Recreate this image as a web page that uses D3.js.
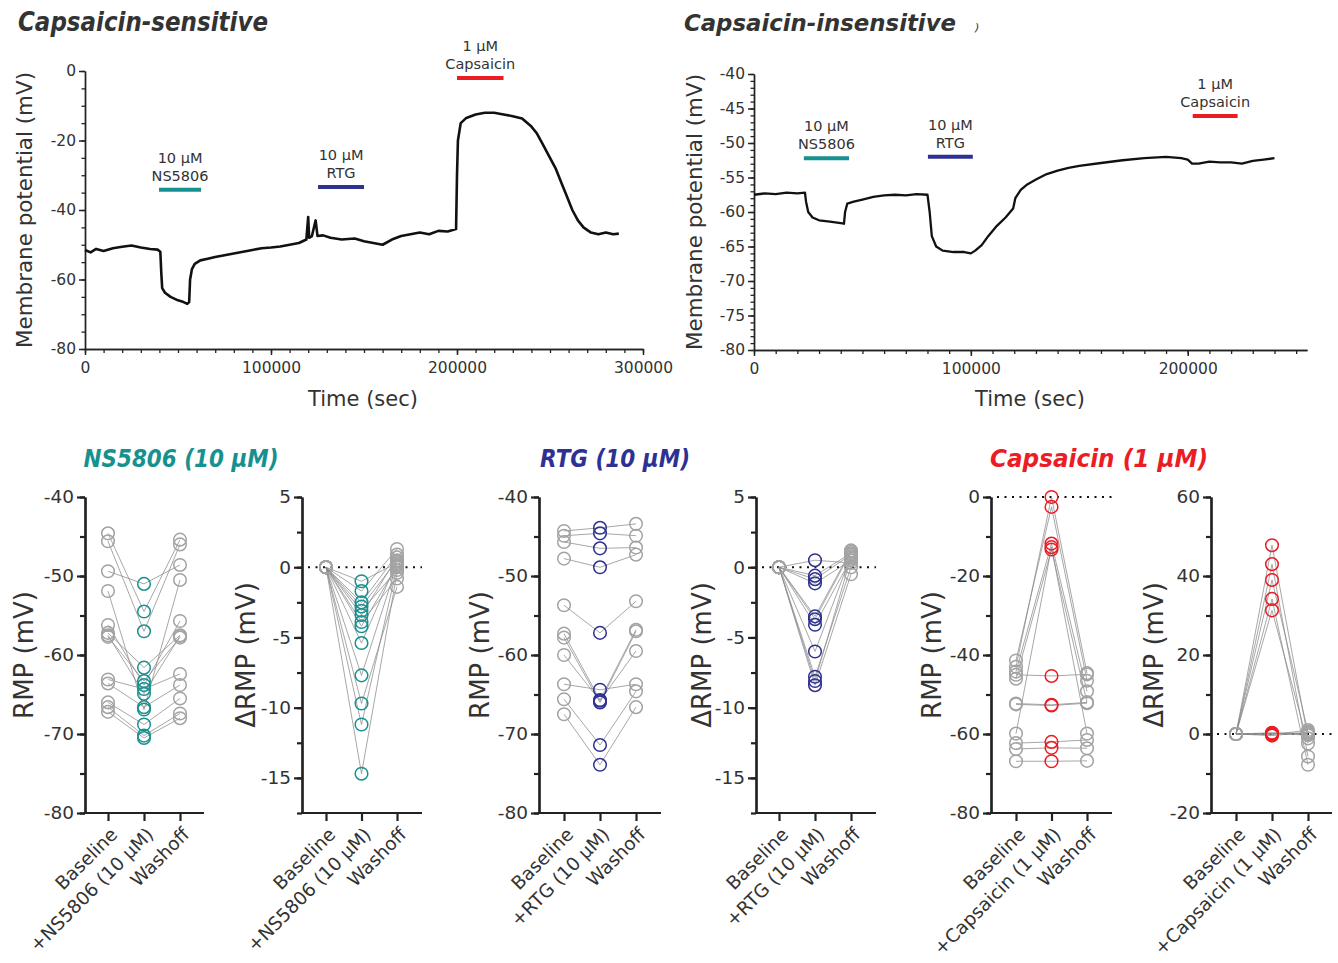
<!DOCTYPE html>
<html><head><meta charset="utf-8">
<script src="https://cdn.jsdelivr.net/npm/d3@7"></script>
<style>
body{margin:0;background:#fff}
text{font-family:"DejaVu Sans",sans-serif;fill:#333}
</style></head>
<body><svg id="c" width="1338" height="963"></svg>
<script>
// ---------------- DATA ----------------
// Capsaicin-sensitive trace (time s, mV)
const sensTime = [0,3000,6000,10000,15000,20000,25000,30000,35000,39000,40500,41000,41500,43000,46000,50000,53000,55000,56000,56500,57500,59000,62000,66000,70000,75000,80000,85000,90000,95000,100000,105000,110000,115000,119000,120000,120500,122000,124000,125000,128000,132000,138000,145000,150000,155000,160000,165000,170000,175000,180000,185000,190000,195000,199500,200000,200500,202000,205000,210000,215000,220000,225000,230000,235000,240000,243000,246000,250000,253000,256000,259000,262000,265000,268000,272000,276000,280000,284000,287000];
const sensMv   = [-51.5,-52.2,-51.2,-51.8,-51.0,-50.6,-50.2,-50.8,-51.2,-51.4,-52.0,-58,-62.5,-63.8,-65,-66,-66.5,-67.0,-66.5,-60,-57,-55.5,-54.5,-54,-53.5,-53,-52.5,-52,-51.5,-51,-50.8,-50.5,-50,-49.5,-48.5,-42,-48,-47.5,-43,-47.5,-47.3,-48,-48.5,-48.2,-49,-49.5,-50,-48.5,-47.5,-47,-46.5,-47,-46,-46.2,-45.5,-30,-20,-15,-13.5,-12.5,-12,-12,-12.5,-13,-13.7,-16,-18,-21,-25,-28,-32,-36,-40,-43,-45,-46.5,-47,-46.5,-47,-46.8];
// Capsaicin-insensitive trace
const insTime = [0,5000,10000,15000,20000,23500,24000,25000,27000,30000,35000,40000,41500,42000,43000,46000,50000,55000,60000,65000,70000,75000,80000,81000,82000,84000,87000,92000,97000,100000,102000,105000,108000,112000,116000,119500,120500,123000,126000,130000,135000,140000,145000,150000,160000,170000,180000,190000,197000,200000,202000,205000,210000,215000,220000,225000,230000,235000,240000];
const insMv   = [-57.5,-57.3,-57.4,-57.2,-57.3,-57.2,-58.5,-60,-60.8,-61.2,-61.4,-61.6,-61.7,-60,-58.8,-58.5,-58.2,-57.8,-57.6,-57.5,-57.6,-57.4,-57.5,-60,-63.5,-65,-65.6,-65.8,-65.8,-66,-65.6,-64.8,-63.5,-62,-60.8,-59.5,-58,-56.8,-56,-55.3,-54.5,-54,-53.6,-53.3,-52.9,-52.5,-52.2,-52,-52.2,-52.4,-53,-53,-52.7,-52.8,-52.8,-53,-52.6,-52.4,-52.2];
// drug application bars
const drugNames = ["NS5806","RTG","Capsaicin"];
const drugConc  = ["10 µM","10 µM","1 µM"];
const sensStart = [39800,125300,200000], sensEnd = [62400,150000,225000], sensLevel = [-34.2,-33.4,-2];
const insStart  = [23000,80200,202300],  insEnd  = [43800,100900,223000], insLevel  = [-52.2,-52.0,-46.1];

// Summary panels
const nsCats  = ["Baseline","+NS5806 (10 µM)","Washoff"];
const rtgCats = ["Baseline","+RTG (10 µM)","Washoff"];
const capCats = ["Baseline","+Capsaicin (1 µM)","Washoff"];

const nsBaseline  = [-44.6,-45.6,-49.4,-51.9,-56.2,-57.2,-57.7,-63.1,-63.6,-66.0,-66.6,-67.2,-57.5];
const nsTreatment = [-54.5,-57.0,-51.0,-66.9,-63.8,-61.6,-63.3,-64.3,-66.6,-68.8,-70.2,-70.5,-64.9];
const nsWashoff   = [-45.4,-46.0,-48.6,-50.5,-55.7,-57.5,-57.8,-62.4,-63.8,-65.5,-67.4,-68.0,-57.6];
const nsDeltaTreatment = [-1.0,-1.7,-2.5,-2.8,-3.1,-3.4,-3.9,-4.2,-5.4,-7.7,-9.7,-11.2,-14.7];
const nsDeltaWashoff   = [0.3,1.3,0.9,0.5,-0.2,0.7,-0.8,0.1,0.4,0.2,-1.4,0,-0.4];

const rtgBaseline  = [-44.3,-44.9,-45.7,-47.8,-53.7,-57.3,-57.8,-60.0,-63.7,-65.6,-67.5];
const rtgTreatment = [-43.9,-44.6,-46.5,-48.9,-57.2,-65.7,-66.0,-65.8,-64.4,-71.4,-73.9];
const rtgWashoff   = [-43.4,-44.9,-46.4,-47.3,-53.2,-56.8,-57.0,-59.5,-63.7,-64.6,-66.6];
const rtgDeltaTreatment = [0.5,-0.6,-0.85,-1.15,-3.5,-3.7,-4.1,-6.0,-7.8,-8.1,-8.4];
const rtgDeltaWashoff   = [0.3,1.0,0.9,0.5,1.2,1.1,0.6,0.8,0,0.7,-0.5];

const capBaseline  = [-41.4,-43.0,-44.2,-46.0,-59.9,-45.0,-52.3,-52.5,-62.3,-63.8,-66.9];
const capTreatment = [-2.5,0,-11.8,-13.3,-12.7,-45.3,-52.6,-52.8,-62.0,-63.5,-66.9];
const capWashoff   = [-46.5,-44.6,-49.2,-52.0,-59.9,-44.9,-52.0,-52.2,-61.5,-63.6,-66.8];
const capDeltaTreatment = [43.0,47.8,34.2,31.3,39.0,0.3,-0.2,-0.4,0.2,0.1,0];
const capDeltaWashoff   = [-5.7,-1.1,-7.8,-2.4,0.6,0.2,1.0,0.4,-0.3,0,0.1];

// ---------------- DRAWING ----------------
const svg = d3.select("#c");
const TEAL = "#17918f", NAVY = "#2e3192", RED = "#ec1c24";
const drugColors = [TEAL, NAVY, RED];
const AX = "#222";
const fmt = d => String(d);   // hyphen-minus like the reference

function styleAxis(g, w) {
  g.selectAll(".domain").attr("stroke", AX).attr("stroke-width", w);
  g.selectAll(".tick line").attr("stroke", AX).attr("stroke-width", w);
}

function tracePanel(o) {
  const x = d3.scaleLinear(o.xDom, o.xRange);
  const y = d3.scaleLinear(o.yDom, o.yRange);
  const g = svg.append("g");
  const ym = g.append("g").attr("transform", `translate(${o.xRange[0]},0)`)
    .call(d3.axisLeft(y).tickValues(o.yMinor).tickSize(3.5).tickSizeOuter(0).tickFormat(""));
  styleAxis(ym, 1.3);
  const yM = g.append("g").attr("transform", `translate(${o.xRange[0]},0)`)
    .call(d3.axisLeft(y).tickValues(o.yMajor).tickSize(6).tickSizeOuter(0).tickPadding(3).tickFormat(fmt));
  styleAxis(yM, 1.5);
  yM.selectAll("text").attr("font-size", 15.5).attr("fill", "#333").attr("font-family", "DejaVu Sans");
  const xm = g.append("g").attr("transform", `translate(0,${o.yRange[0]})`)
    .call(d3.axisBottom(x).tickValues(o.xMinor).tickSize(4).tickSizeOuter(0).tickFormat(""));
  styleAxis(xm, 1.3);
  const xM = g.append("g").attr("transform", `translate(0,${o.yRange[0]})`)
    .call(d3.axisBottom(x).tickValues(o.xMajor).tickSize(6).tickSizeOuter(0).tickPadding(7).tickFormat(fmt));
  styleAxis(xM, 1.5);
  xM.selectAll("text").attr("font-size", 15.5).attr("fill", "#333").attr("font-family", "DejaVu Sans");
  const pts = o.t.map((t, i) => [t, o.v[i]]);
  g.append("path").datum(pts)
    .attr("d", d3.line().x(d => x(d[0])).y(d => y(d[1])))
    .attr("fill", "none").attr("stroke", "#111").attr("stroke-width", o.lw).attr("stroke-linejoin", "round");
  drugNames.forEach((n, i) => {
    const yy = y(o.level[i]);
    g.append("line").attr("x1", x(o.start[i])).attr("x2", x(o.end[i]))
      .attr("y1", yy).attr("y2", yy).attr("stroke", drugColors[i]).attr("stroke-width", 4);
    const cx = (x(o.start[i]) + x(o.end[i])) / 2;
    g.append("text").attr("x", cx).attr("y", yy - 27).attr("text-anchor", "middle")
      .attr("font-size", 14.5).text(drugConc[i]);
    g.append("text").attr("x", cx).attr("y", yy - 9).attr("text-anchor", "middle")
      .attr("font-size", 14.5).text(n);
  });
  svg.append("text").attr("transform", `translate(${o.ylabX},${(o.yRange[0] + o.yRange[1]) / 2}) rotate(-90)`)
    .attr("text-anchor", "middle").attr("font-size", 22).attr("textLength", 276).attr("lengthAdjust", "spacingAndGlyphs")
    .text("Membrane potential (mV)");
  svg.append("text").attr("x", o.xlabX).attr("y", 406).attr("text-anchor", "middle")
    .attr("font-size", 21).text("Time (sec)");
}

tracePanel({xDom:[0,300000], xRange:[85,643], yDom:[-80,0], yRange:[349,71],
  yMajor:d3.range(-80,1,20), yMinor:d3.range(-80,1,5),
  xMajor:d3.range(0,300001,100000), xMinor:d3.range(0,300001,10000),
  t:sensTime, v:sensMv, lw:2.6, start:sensStart, end:sensEnd, level:sensLevel, ylabX:32, xlabX:363});
tracePanel({xDom:[0,255000], xRange:[754,1307], yDom:[-80,-40], yRange:[350,74],
  yMajor:d3.range(-80,-39,5), yMinor:d3.range(-80,-39,1),
  xMajor:d3.range(0,200001,100000), xMinor:d3.range(0,255001,10000),
  t:insTime, v:insMv, lw:2.3, start:insStart, end:insEnd, level:insLevel, ylabX:702, xlabX:1030});

svg.append("text").attr("x", 18).attr("y", 31).attr("font-size", 26).attr("font-weight", "bold")
  .attr("font-style", "italic").attr("fill", "#222").attr("textLength", 250).attr("lengthAdjust", "spacingAndGlyphs")
  .text("Capsaicin-sensitive");
svg.append("text").attr("x", 684).attr("y", 31).attr("font-size", 23.5).attr("font-weight", "bold")
  .attr("font-style", "italic").attr("fill", "#222").attr("textLength", 272).attr("lengthAdjust", "spacingAndGlyphs")
  .text("Capsaicin-insensitive");
svg.append("text").attr("x", 975).attr("y", 31).attr("font-size", 11).attr("font-style", "italic").attr("fill", "#222").text(")");

function summaryPanel(o) {
  const y = d3.scaleLinear(o.yDom, [813, 497]);
  const x = d3.scalePoint(o.cats, o.catRange);
  const g = svg.append("g");
  if (o.zero) {
    g.append("line").attr("x1", o.axisX + 6).attr("x2", o.axisEnd).attr("y1", y(0)).attr("y2", y(0))
      .attr("stroke", "#111").attr("stroke-width", 2).attr("stroke-dasharray", "2,5.5");
  }
  const n = o.b.length;
  const rows = d3.range(n).map(i => [o.b[i], o.t[i], o.w[i]]);
  g.selectAll("path.cell").data(rows).join("path")
    .attr("d", r => d3.line().x((d, j) => x(o.cats[j])).y(d => y(d))(r))
    .attr("fill", "none").attr("stroke", "#8a8a8a").attr("stroke-opacity", 0.75).attr("stroke-width", 1);
  const cols = [o.b, o.t, o.w];
  const colColors = ["#a3a3a3", o.color, "#a3a3a3"];
  cols.forEach((arr, j) => {
    g.selectAll(null).data(arr).join("circle")
      .attr("cx", x(o.cats[j])).attr("cy", d => y(d)).attr("r", 6.3)
      .attr("fill", "none").attr("stroke", colColors[j]).attr("stroke-width", 1.5);
  });
  const ym = g.append("g").attr("transform", `translate(${o.axisX},0)`)
    .call(d3.axisLeft(y).tickValues(o.minor).tickSize(5).tickSizeOuter(0).tickFormat(""));
  styleAxis(ym, 2.2);
  const yM = g.append("g").attr("transform", `translate(${o.axisX},0)`)
    .call(d3.axisLeft(y).tickValues(o.major).tickSize(8).tickSizeOuter(0).tickPadding(3).tickFormat(fmt));
  styleAxis(yM, 2.2);
  yM.selectAll("text").attr("font-size", 18.5).attr("fill", "#333").attr("font-family", "DejaVu Sans");
  g.append("line").attr("x1", o.axisX - 1).attr("x2", o.axisEnd).attr("y1", 813).attr("y2", 813)
    .attr("stroke", AX).attr("stroke-width", 2.2);
  const xa = g.append("g").attr("transform", "translate(0,813)")
    .call(d3.axisBottom(x).tickSize(8).tickSizeOuter(0).tickFormat(""));
  xa.select(".domain").remove();
  styleAxis(xa, 2.2);
  o.cats.forEach(c => {
    g.append("text").attr("transform", `translate(${x(c) + 6},${831}) rotate(-45)`)
      .attr("text-anchor", "end").attr("dy", "0.35em").attr("font-size", 18.5).text(c);
  });
  svg.append("text").attr("transform", `translate(${o.labX},655) rotate(-90)`)
    .attr("text-anchor", "middle").attr("font-size", 26).text(o.label);
}

const rmpMajor = d3.range(-80,-39,10), rmpMinor = d3.range(-80,-39,5);
const dMajor = d3.range(-15,6,5), dMinor = d3.range(-17.5,5.1,2.5);
const zeros = n => d3.range(n).map(() => 0);

summaryPanel({cats:nsCats, catRange:[108,180], axisX:85, axisEnd:204, yDom:[-80,-40], major:rmpMajor, minor:rmpMinor,
  b:nsBaseline, t:nsTreatment, w:nsWashoff, color:TEAL, label:"RMP (mV)", labX:33});
summaryPanel({cats:nsCats, catRange:[326,397], axisX:302, axisEnd:422, yDom:[-17.5,5], major:dMajor, minor:dMinor,
  b:zeros(nsDeltaTreatment.length), t:nsDeltaTreatment, w:nsDeltaWashoff, color:TEAL, label:"ΔRMP (mV)", labX:255, zero:true});
summaryPanel({cats:rtgCats, catRange:[564,636], axisX:539, axisEnd:661, yDom:[-80,-40], major:rmpMajor, minor:rmpMinor,
  b:rtgBaseline, t:rtgTreatment, w:rtgWashoff, color:NAVY, label:"RMP (mV)", labX:489});
summaryPanel({cats:rtgCats, catRange:[779,851], axisX:756, axisEnd:876, yDom:[-17.5,5], major:dMajor, minor:dMinor,
  b:zeros(rtgDeltaTreatment.length), t:rtgDeltaTreatment, w:rtgDeltaWashoff, color:NAVY, label:"ΔRMP (mV)", labX:711, zero:true});
summaryPanel({cats:capCats, catRange:[1016,1087], axisX:991, axisEnd:1112, yDom:[-80,0], major:d3.range(-80,1,20), minor:d3.range(-80,1,10),
  b:capBaseline, t:capTreatment, w:capWashoff, color:RED, label:"RMP (mV)", labX:941, zero:true});
summaryPanel({cats:capCats, catRange:[1236,1308], axisX:1211, axisEnd:1332, yDom:[-20,60], major:d3.range(-20,61,20), minor:d3.range(-20,61,10),
  b:zeros(capDeltaTreatment.length), t:capDeltaTreatment, w:capDeltaWashoff, color:RED, label:"ΔRMP (mV)", labX:1163, zero:true});

const titles = [["NS5806 (10 µM)", 181, TEAL, 195], ["RTG (10 µM)", 615, NAVY, 150], ["Capsaicin (1 µM)", 1099, RED, 218]];
titles.forEach(([t, cx, col, len]) => {
  svg.append("text").attr("x", cx).attr("y", 467).attr("text-anchor", "middle").attr("font-size", 24)
    .attr("font-weight", "bold").attr("font-style", "italic").style("fill", col)
    .attr("textLength", len).attr("lengthAdjust", "spacingAndGlyphs").text(t);
});
</script></body></html>
